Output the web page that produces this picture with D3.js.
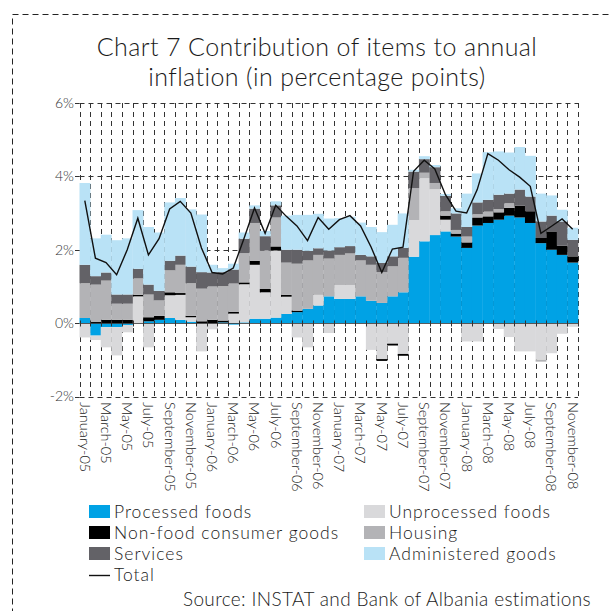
<!DOCTYPE html>
<html>
<head>
<meta charset="utf-8">
<script src="https://cdn.jsdelivr.net/npm/d3@7"></script>
<style>
  html, body { margin: 0; padding: 0; background: #fff; }
  svg { display: block; }
  text { font-family: Lato, "Open Sans", sans-serif; font-weight: 300; fill: #1a1a1a; }
</style>
</head>
<body>
<svg id="chart" width="610" height="611"></svg>
<script>
// Monthly contributions to annual inflation, January 2005 - November 2008 (percentage points)
const monthNames = ["January","February","March","April","May","June","July","August","September","October","November","December"];
const years = ["05","06","07","08"];
const months = [];
years.forEach(y => monthNames.forEach(m => months.push(m + "-" + y)));
months.splice(47); // series ends in November 2008

const processedFoods = [0.14,-0.34,-0.11,-0.11,-0.05,0.00,0.05,0.09,0.14,0.09,0.04,0.00,
                        0.00,0.02,-0.04,0.02,0.12,0.12,0.15,0.25,0.30,0.39,0.48,0.73,
                        0.66,0.66,0.73,0.61,0.55,0.73,0.84,1.81,2.23,2.40,2.50,2.36,
                        2.05,2.66,2.73,2.82,2.93,2.88,2.73,2.18,2.00,1.86,1.65];
const unprocessedFoods = [-0.39,-0.12,-0.55,-0.77,-0.20,0.73,-0.66,0.00,0.62,0.68,0.12,-0.77,
                          -0.17,0.00,0.26,1.04,1.47,0.72,1.83,0.47,-0.39,-0.66,0.29,-0.27,
                          0.38,0.38,0.00,-0.73,-0.98,-0.56,-0.84,1.00,1.72,1.25,0.32,0.00,
                          -0.50,-0.50,0.00,-0.16,-0.38,-0.77,-0.77,-1.00,-0.82,-0.29,-0.10];
const nonFoodGoods = [0.00,0.03,0.09,0.09,0.09,0.04,0.11,0.11,0.08,0.05,0.04,0.05,
                      0.09,0.05,0.05,0.05,0.11,0.09,0.11,0.05,0.04,0.00,0.00,0.00,
                      0.00,0.00,0.00,0.00,-0.05,-0.05,-0.05,0.00,0.00,0.00,0.11,0.08,
                      0.15,0.22,0.18,0.20,0.21,0.32,0.32,0.14,0.50,0.25,0.17];
const housing = [0.95,1.02,1.07,0.44,0.44,0.45,0.62,0.42,0.60,0.77,0.89,0.89,
                 0.91,0.94,0.77,0.80,1.03,1.05,0.79,0.88,1.28,1.32,1.09,1.03,
                 0.82,0.86,0.98,0.98,0.84,0.82,0.94,0.87,0.15,0.17,0.12,0.10,
                 0.16,0.09,0.13,0.09,0.13,0.00,0.00,-0.05,0.00,0.00,0.00];
const services = [0.50,0.23,0.22,0.25,0.25,0.26,0.27,0.26,0.26,0.25,0.45,0.45,
                  0.38,0.38,0.38,0.39,0.39,0.39,0.33,0.35,0.38,0.26,0.18,0.22,
                  0.21,0.20,0.15,0.23,0.25,0.27,0.27,0.45,0.37,0.43,0.42,0.45,
                  0.26,0.32,0.32,0.39,0.26,0.44,0.40,0.45,0.43,0.66,0.45];
const administeredGoods = [2.23,1.03,1.03,1.48,1.53,1.60,1.57,1.59,1.59,1.57,1.56,1.57,
                           0.21,0.11,0.16,0.17,0.09,0.14,0.11,0.93,0.95,0.98,0.94,0.87,
                           0.79,0.80,0.88,0.80,0.84,0.86,0.94,0.05,0.08,0.06,0.05,0.14,
                           0.91,0.79,1.30,1.18,1.12,1.16,1.11,0.76,0.55,0.32,0.33];
const total = [3.34,1.77,1.65,1.32,2.00,2.86,1.86,2.30,3.11,3.32,3.00,2.05,
               1.38,1.34,1.50,2.30,3.14,2.45,3.21,2.91,2.65,2.25,2.88,2.56,
               2.82,2.93,2.65,2.07,1.38,2.02,2.07,4.14,4.44,4.20,3.50,3.05,
               3.00,3.64,4.62,4.44,4.18,3.98,3.73,2.45,2.64,2.84,2.56];

const seriesNames = ["Processed foods","Unprocessed foods","Non-food consumer goods","Housing","Services","Administered goods"];
const seriesValues = [processedFoods, unprocessedFoods, nonFoodGoods, housing, services, administeredGoods];
const seriesColors = ["#00a2e5","#d9d9db","#000000","#b3b3b6","#636267","#b9e2f6"];
const yTicks = [-2, 0, 2, 4, 6];

const svg = d3.select("#chart");

// outer dashed frame
svg.append("rect")
  .attr("x", 12.5).attr("y", 14.5).attr("width", 640).attr("height", 640)
  .attr("fill", "none").attr("stroke", "#222").attr("stroke-width", 1)
  .attr("stroke-dasharray", "6,4");

// title
const title = svg.append("text").attr("text-anchor", "middle")
  .style("font-size", "25px").style("letter-spacing", "0.4px");
title.append("tspan").attr("x", 317).attr("y", 56).text("Chart 7 Contribution of items to annual");
title.append("tspan").attr("x", 317).attr("y", 86).text("inflation (in percentage points)");

const x = d3.scaleBand().domain(months).range([79.5, 578]).padding(0);
const y = d3.scaleLinear().domain([-2, 6]).range([396.5, 103]);

// rows for the stack
const rows = months.map((m, i) => {
  const r = { month: m };
  seriesNames.forEach((s, k) => r[s] = seriesValues[k][i]);
  return r;
});
const stacked = d3.stack().keys(seriesNames).offset(d3.stackOffsetDiverging)(rows);

const grid = svg.append("g").attr("stroke", "#333").attr("stroke-width", 1).attr("stroke-dasharray", "5,4");
// vertical gridlines at category boundaries
const bounds = months.map(m => x(m)).concat([x.range()[1]]);
grid.selectAll("line.v").data(bounds).join("line")
  .attr("x1", d => Math.round(d) + 0.5).attr("x2", d => Math.round(d) + 0.5)
  .attr("y1", y(6)).attr("y2", y(-2));
// horizontal gridlines
grid.selectAll("line.h").data([6, 4, 2, -2]).join("line")
  .attr("x1", x.range()[0]).attr("x2", x.range()[1])
  .attr("y1", d => Math.round(y(d)) + 0.5).attr("y2", d => Math.round(y(d)) + 0.5);

// stacked bars
svg.append("g").selectAll("g").data(stacked).join("g")
  .attr("fill", (d, i) => seriesColors[i])
  .selectAll("rect").data(d => d).join("rect")
  .attr("x", d => x(d.data.month))
  .attr("width", x.bandwidth() + 0.3)
  .attr("y", d => y(Math.max(d[0], d[1])))
  .attr("height", d => Math.abs(y(d[0]) - y(d[1])));

// zero axis with small ticks at the boundaries
const y0 = Math.round(y(0)) + 0.5;
svg.append("line").attr("x1", x.range()[0]).attr("x2", x.range()[1])
  .attr("y1", y0).attr("y2", y0).attr("stroke", "#333").attr("stroke-width", 0.8);
svg.append("g").selectAll("line").data(bounds).join("line")
  .attr("x1", d => Math.round(d) + 0.5).attr("x2", d => Math.round(d) + 0.5)
  .attr("y1", y0 - 3).attr("y2", y0 + 3).attr("stroke", "#333");

// y axis ticks and labels
const yAxis = svg.append("g");
yAxis.selectAll("line").data(yTicks).join("line")
  .attr("x1", 75).attr("x2", 79.5)
  .attr("y1", d => Math.round(y(d)) + 0.5).attr("y2", d => Math.round(y(d)) + 0.5)
  .attr("stroke", "#333");
yAxis.selectAll("text").data(yTicks).join("text")
  .attr("x", 74).attr("y", d => y(d)).attr("dy", "0.35em")
  .attr("text-anchor", "end").style("font-size", "14px").style("fill", "#333")
  .text(d => d + "%");

// x labels, every second month
svg.append("g").selectAll("text").data(months.filter((m, i) => i % 2 === 0)).join("text")
  .attr("transform", d => `translate(${x(d) + x.bandwidth() / 2},402) rotate(90)`)
  .attr("dy", "0.35em").style("font-size", "14.5px").style("fill", "#222")
  .text(d => d);

// total line
svg.append("path").datum(total)
  .attr("fill", "none").attr("stroke", "#111").attr("stroke-width", 1.4)
  .attr("d", d3.line().x((d, i) => x(months[i]) + x.bandwidth() / 2).y(d => y(d)));

// legend
const legend = svg.append("g").style("font-size", "17.5px").style("letter-spacing", "1px");
seriesNames.forEach((s, i) => {
  const col = i % 2, row = Math.floor(i / 2);
  const lx = col === 0 ? 89 : 364;
  const ly = 512 + row * 21;
  legend.append("rect").attr("x", lx).attr("y", ly - 7).attr("width", 21).attr("height", 13).attr("fill", seriesColors[i]);
  legend.append("text").attr("x", lx + 25).attr("y", ly).attr("dy", "0.35em").text(s);
});
legend.append("line").attr("x1", 89).attr("x2", 110).attr("y1", 575.5).attr("y2", 575.5).attr("stroke", "#111").attr("stroke-width", 1.4);
legend.append("text").attr("x", 114).attr("y", 575).attr("dy", "0.35em").text("Total");

svg.append("text").attr("x", 183).attr("y", 606).style("font-size", "19px").style("letter-spacing", "0.35px")
  .text("Source: INSTAT and Bank of Albania estimations");
</script>
</body>
</html>
